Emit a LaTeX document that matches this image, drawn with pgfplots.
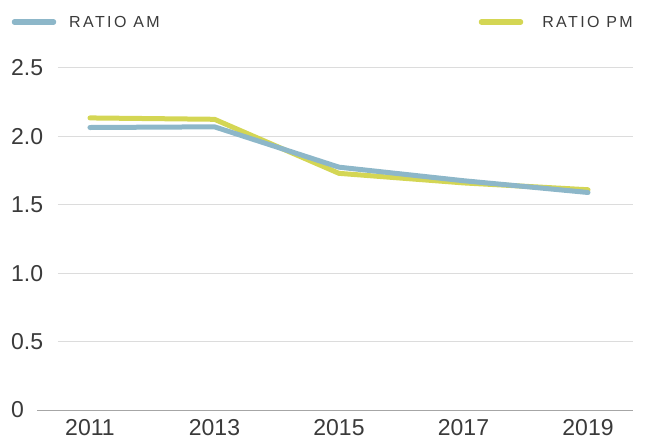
\documentclass[border=0pt]{standalone}
\usepackage{fontspec}
\setmainfont{Liberation Sans}
\usepackage{pgfplots}
\pgfplotsset{compat=1.18}
\definecolor{amblue}{HTML}{8DB7C9}
\definecolor{pmyel}{HTML}{D4D654}
\definecolor{txt}{HTML}{3A3A3A}
\definecolor{gridc}{HTML}{DCDCDC}
\definecolor{basec}{HTML}{A6A6A6}
\begin{document}
\begin{tikzpicture}[x=1pt,y=1pt]
\path[use as bounding box] (0,0) rectangle (647,447);
\begin{axis}[
  at={(37pt,37pt)}, anchor=south west, scale only axis,
  width=596pt, height=342pt,
  xmin=2010.149, xmax=2019.723, ymin=0, ymax=2.5,
  axis line style={draw=none}, tick style={draw=none},
  xtick={2011,2013,2015,2017,2019},
  xticklabels={2011,2013,2015,2017,2019},
  ytick={0,0.5,1,1.5,2,2.5},
  yticklabels={0,0.5,1.0,1.5,2.0,2.5},
  ticklabel style={font=\fontsize{23}{27}\selectfont, text=txt, inner sep=0pt},
  yticklabel style={anchor=west, xshift=-26pt},
  xticklabel style={anchor=north, yshift=-9pt},
  clip=false,
]
\pgfplotsinvokeforeach{0.5,1,1.5,2,2.5}{\draw[gridc, line width=1pt] (axis cs:2010.486,#1) -- (axis cs:2019.723,#1);}
\draw[basec, line width=1pt] (axis cs:2010.149,0) -- (axis cs:2019.723,0);
\addplot[pmyel, line width=5pt, line cap=round, line join=round]
  coordinates {(2011,2.135)(2013,2.125)(2015,1.73)(2017,1.66)(2019,1.61)};
\addplot[amblue, line width=5pt, line cap=round, line join=round]
  coordinates {(2011,2.065)(2013,2.07)(2015,1.775)(2017,1.676)(2019,1.59)};
\end{axis}
\draw[amblue, line width=5.5pt, line cap=round] (14.5,425) -- (53.5,425);
\node[anchor=west, inner sep=0pt, text=txt, font=\fontsize{16}{19}\selectfont\addfontfeatures{LetterSpace=15}] at (69,425) {RATIO AM};
\draw[pmyel, line width=5.5pt, line cap=round] (481.5,425) -- (520.5,425);
\node[anchor=east, inner sep=0pt, text=txt, font=\fontsize{16}{19}\selectfont\addfontfeatures{LetterSpace=15}] at (633,425) {RATIO PM};
\end{tikzpicture}
\end{document}
